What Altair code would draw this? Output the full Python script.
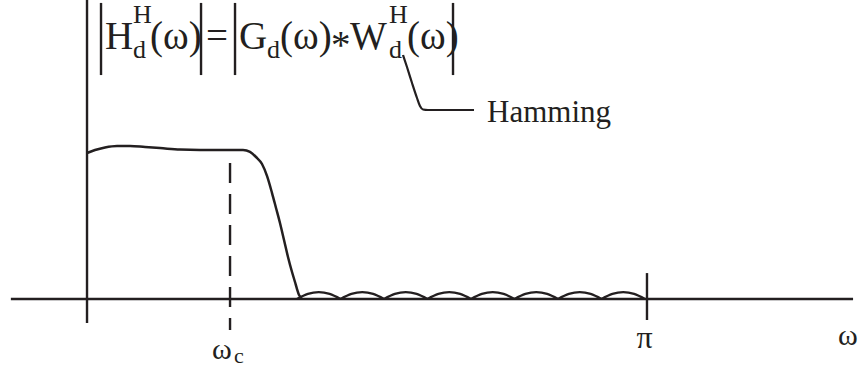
import altair as alt
import pandas as pd

INK = "#231f20"
SERIF = "Liberation Serif"

# x is frequency in units of pi, y is magnitude (passband = 1)
X_DOMAIN = [-0.1554, 1.3804]
Y_DOMAIN = [-0.4631, 2.0067]

# |H_d^H(w)|: passband with a small overshoot, then the transition band
resp_w = [0.0, 0.0143, 0.0321, 0.0536, 0.0768, 0.1036, 0.1304, 0.1661, 0.2018,
          0.2786, 0.2911, 0.3018, 0.3125, 0.3214, 0.3304, 0.3375, 0.3446, 0.3518,
          0.3589, 0.3661, 0.3714, 0.3750, 0.3786, 0.3839]
resp_mag = [0.980, 1.000, 1.017, 1.027, 1.027, 1.020, 1.013, 1.003, 1.000,
            1.000, 0.987, 0.953, 0.906, 0.826, 0.711, 0.611, 0.510, 0.396,
            0.282, 0.181, 0.114, 0.067, 0.027, 0.007]

# stopband ripple lobes between omega = 0.375 pi and pi
lobe_edges = [0.375, 0.4527, 0.5304, 0.6080, 0.6857, 0.7634, 0.8411, 0.9188, 0.9964]
lobe_peak = [0.046, 0.046, 0.046, 0.046, 0.046, 0.046, 0.046, 0.046]
lobe_shoulder = [0.034, 0.034, 0.034, 0.034, 0.034, 0.034, 0.034, 0.034]

omega_c = 0.2554

# leader from the window term to its label
leader_w = [0.5643, 0.5714, 0.5804, 0.5893, 0.5946, 0.6000, 0.6089, 0.6911]
leader_y = [1.6376, 1.5570, 1.4497, 1.3490, 1.2953, 1.2718, 1.2685, 1.2685]

rows = []
for i in range(len(lobe_peak)):
    a, b = lobe_edges[i], lobe_edges[i + 1]
    xs = [a, a + (b - a) * 0.25, (a + b) / 2, a + (b - a) * 0.75, b]
    ys = [0.0, lobe_shoulder[i], lobe_peak[i], lobe_shoulder[i], 0.0]
    for k, (xv, yv) in enumerate(zip(xs, ys)):
        rows.append({"w": xv, "mag": yv, "lobe": i, "k": k})
ripple = pd.DataFrame(rows)
resp = pd.DataFrame({"w": resp_w, "mag": resp_mag, "k": range(len(resp_w))})
leader = pd.DataFrame({"w": leader_w, "mag": leader_y, "k": range(len(leader_w))})

# solid straight strokes: frequency axis, magnitude axis, pi tick, formula bars
rules = pd.DataFrame({
    "x": [-0.136, 0.0, 1.0, 0.025, 0.2036, 0.2643, 0.6536],
    "x2": [1.368, 0.0, 1.0, 0.025, 0.2036, 0.2643, 0.6536],
    "y": [0.0, 2.01, 0.174, 1.987, 1.987, 1.987, 1.987],
    "y2": [0.0, -0.161, -0.141, 1.503, 1.503, 1.503, 1.503],
})
cutoff = pd.DataFrame({"x": [omega_c], "y": [0.913], "y2": [-0.208]})

# formula  |H_d^H(w)| = |G_d(w) * W_d^H(w)|  plus axis labels
labels = pd.DataFrame([
    {"x": 0.0321, "y": 1.6779, "t": "H", "s": 39},
    {"x": 0.0821, "y": 1.8523, "t": "H", "s": 26},
    {"x": 0.0821, "y": 1.6174, "t": "d", "s": 26},
    {"x": 0.1125, "y": 1.6779, "t": "(ω)", "s": 39},
    {"x": 0.2125, "y": 1.6779, "t": "=", "s": 39},
    {"x": 0.2714, "y": 1.6779, "t": "G", "s": 39},
    {"x": 0.3214, "y": 1.6174, "t": "d", "s": 26},
    {"x": 0.3446, "y": 1.6779, "t": "(ω)", "s": 39},
    {"x": 0.4357, "y": 1.6174, "t": "*", "s": 39},
    {"x": 0.4696, "y": 1.6779, "t": "W", "s": 39},
    {"x": 0.5393, "y": 1.8523, "t": "H", "s": 26},
    {"x": 0.5393, "y": 1.6174, "t": "d", "s": 26},
    {"x": 0.5714, "y": 1.6779, "t": "(ω)", "s": 39},
    {"x": 0.7143, "y": 1.1879, "t": "Hamming", "s": 31},
    {"x": 0.2232, "y": -0.4050, "t": "ω", "s": 30},
    {"x": 0.2625, "y": -0.4295, "t": "c", "s": 22},
    {"x": 0.9812, "y": -0.3290, "t": "π", "s": 32},
    {"x": 1.3410, "y": -0.3090, "t": "ω", "s": 30},
])

xs = alt.Scale(domain=X_DOMAIN, nice=False, zero=False)
ys = alt.Scale(domain=Y_DOMAIN, nice=False, zero=False)
X = lambda f: alt.X(f, type="quantitative", scale=xs, axis=None)
Y = lambda f: alt.Y(f, type="quantitative", scale=ys, axis=None)

rule_layer = alt.Chart(rules).mark_rule(color=INK, strokeWidth=2.4).encode(
    x=X("x"), x2="x2", y=Y("y"), y2="y2")

cut_layer = alt.Chart(cutoff).mark_rule(
    color=INK, strokeWidth=2.4, strokeDash=[20, 11]).encode(
    x=X("x"), y=Y("y"), y2="y2")

resp_layer = alt.Chart(resp).mark_line(
    color=INK, strokeWidth=2.5, interpolate="monotone").encode(
    x=X("w"), y=Y("mag"), order="k:Q")

ripple_layer = alt.Chart(ripple).mark_line(
    color=INK, strokeWidth=2.3, interpolate="monotone").encode(
    x=X("w"), y=Y("mag"), detail="lobe:N", order="k:Q")

leader_layer = alt.Chart(leader).mark_line(
    color=INK, strokeWidth=2.2, interpolate="monotone").encode(
    x=X("w"), y=Y("mag"), order="k:Q")

text_layer = alt.Chart(labels).mark_text(
    font=SERIF, color=INK, align="left", baseline="alphabetic").encode(
    x=X("x"), y=Y("y"), text="t:N", size=alt.Size("s:Q", scale=None, legend=None))

chart = alt.layer(
    rule_layer, cut_layer, resp_layer, ripple_layer, leader_layer, text_layer
).properties(
    width=860, height=368, padding=0,
    autosize=alt.AutoSizeParams(type="none"),
    background="white",
).configure_view(stroke=None)

chart.save("out.html", embed_options={"renderer": "svg", "actions": False})
